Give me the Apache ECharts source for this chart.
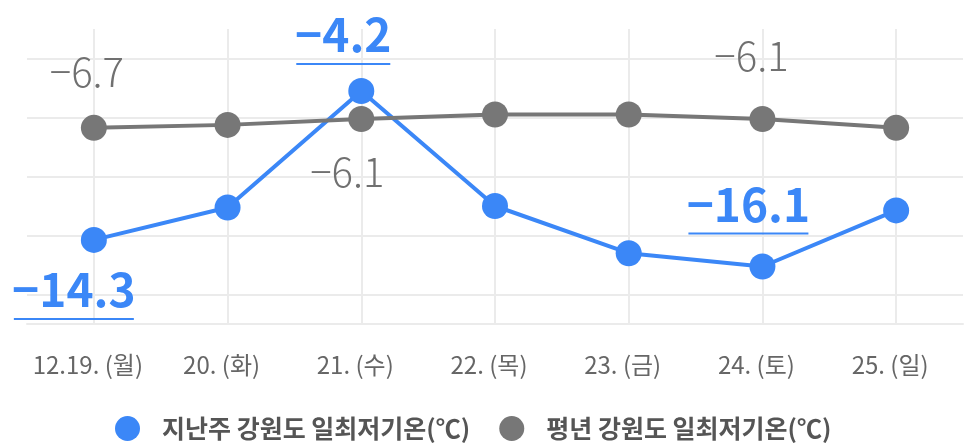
<!DOCTYPE html>
<html>
<head>
<meta charset="utf-8">
<script src="https://cdn.jsdelivr.net/npm/echarts@6/dist/echarts.min.js"></script>
<style>
  html, body { margin: 0; background: #fff; }
  #chart { width: 973px; height: 447px; }
</style>
</head>
<body>
<div id="chart"></div>
<script>
const categories = ["12.19. (월)", "20. (화)", "21. (수)", "22. (목)", "23. (금)", "24. (토)", "25. (일)"]
const lastWeek = [-14.3, -12.1, -4.2, -12.0, -15.2, -16.1, -12.3]
const normal = [-6.7, -6.5, -6.1, -5.8, -5.8, -6.1, -6.7]
const gridValues = [-18, -14, -10, -6, -2]
const seriesNames = ["지난주 강원도 일최저기온(℃)", "평년 강원도 일최저기온(℃)"]

const BLUE = "#3b87f7"
const GRAY = "#777777"
const FONT = "'Noto Sans CJK KR', 'Noto Sans', sans-serif"

const fmt = (v) => (v < 0 ? "\u2212" : "") + Math.abs(v).toFixed(1)

// which points get a value label, and where it sits relative to the point
const blueLabels = { 0: [-20, 51, 120], 2: [-18, -55, 94], 5: [-14, -61, 120] }
const grayLabels = { 0: [-7, -56], 2: [-14, 53], 5: [-11, -63] }

function blueData() {
  return lastWeek.map((v, i) => {
    const l = blueLabels[i]
    if (!l) return v
    return {
      value: v,
      label: {
        show: true,
        position: "inside",
        offset: [l[0], l[1]],
        formatter: "{n|" + fmt(v) + "}\n{u| }",
        rich: {
          n: { fontFamily: FONT, fontSize: 46, fontWeight: "bold", color: BLUE, lineHeight: 56, align: "center" },
          u: { width: l[2], height: 2, lineHeight: 2, fontSize: 1, backgroundColor: BLUE, align: "center" },
        },
      },
    }
  })
}

function grayData() {
  return normal.map((v, i) => {
    const l = grayLabels[i]
    if (!l) return v
    return {
      value: v,
      label: {
        show: true,
        position: "inside",
        offset: [l[0], l[1]],
        formatter: fmt(v),
        fontFamily: FONT,
        fontSize: 40,
        fontWeight: 300,
        color: "#707070",
      },
    }
  })
}

const chart = echarts.init(document.getElementById("chart"))
chart.setOption({
  animation: false,
  backgroundColor: "#fff",
  grid: { left: 27, right: 10, top: 29, bottom: 123, outerBoundsMode: "none" },
  legend: {
    left: 110,
    top: 411,
    icon: "circle",
    itemWidth: 25,
    itemHeight: 25,
    itemGap: 29,
    data: [
      { name: seriesNames[0], itemStyle: { color: BLUE } },
      { name: seriesNames[1], itemStyle: { color: GRAY } },
    ],
    textStyle: { fontFamily: FONT, fontSize: 25, fontWeight: "bold", color: "#555", padding: [0, 0, 0, 17] },
  },
  xAxis: {
    type: "category",
    data: categories,
    boundaryGap: true,
    axisLine: { show: true, onZero: false, lineStyle: { color: "#ebebeb", width: 2 } },
    axisTick: { show: false, alignWithLabel: true, interval: 0 },
    splitLine: { show: true, interval: 0, alignWithLabel: true, lineStyle: { color: "#ebebeb", width: 2 } },
    axisLabel: { interval: 0, fontFamily: FONT, fontSize: 24, color: "#666", margin: 29, padding: [0, 12, 0, 0] },
  },
  yAxis: {
    type: "value",
    min: -20,
    max: 0,
    axisLine: { show: false },
    axisLabel: { show: false },
    axisTick: { show: false, customValues: gridValues },
    splitLine: { show: true, lineStyle: { color: "#ebebeb", width: 2 } },
  },
  series: [
    {
      name: seriesNames[0],
      type: "line",
      data: blueData(),
      symbol: "circle",
      symbolSize: 26,
      lineStyle: { color: BLUE, width: 4 },
      itemStyle: { color: BLUE },
    },
    {
      name: seriesNames[1],
      type: "line",
      data: grayData(),
      symbol: "circle",
      symbolSize: 26,
      lineStyle: { color: GRAY, width: 4 },
      itemStyle: { color: GRAY },
    },
  ],
})
</script>
</body>
</html>
